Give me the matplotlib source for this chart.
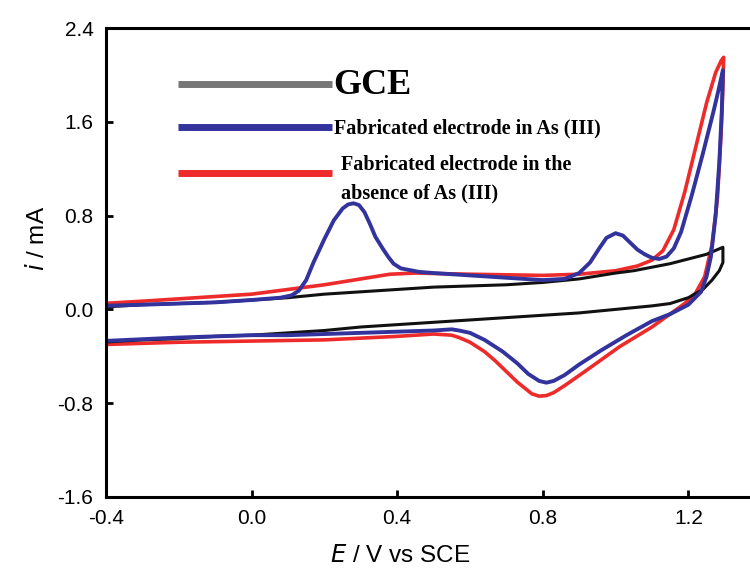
import matplotlib
matplotlib.use("Agg")
import matplotlib.pyplot as plt

# GCE (black)
gce_E = [-0.41, -0.3, -0.2, -0.1, 0.0, 0.1, 0.2, 0.3, 0.4, 0.5, 0.6, 0.7, 0.8, 0.9, 1.0, 1.05, 1.1, 1.15, 1.2, 1.25, 1.295,
         1.295, 1.285, 1.265, 1.24, 1.2, 1.15, 1.1, 1.0, 0.9, 0.8, 0.7, 0.6, 0.5, 0.4, 0.3, 0.2, 0.1, 0.0, -0.1, -0.2, -0.3, -0.41, -0.41]
gce_i = [0.02, 0.04, 0.05, 0.06, 0.08, 0.10, 0.13, 0.15, 0.17, 0.19, 0.20, 0.21, 0.23, 0.26, 0.31, 0.33, 0.36, 0.39, 0.43, 0.47, 0.53,
         0.40, 0.33, 0.25, 0.17, 0.10, 0.05, 0.03, 0.0, -0.03, -0.05, -0.07, -0.09, -0.11, -0.13, -0.15, -0.18, -0.20, -0.22, -0.23, -0.25, -0.26, -0.28, 0.02]

# fabricated electrode in As(III) (blue)
as_E = [-0.41, -0.3, -0.2, -0.1, 0.0, 0.08, 0.11, 0.13, 0.15, 0.17, 0.20, 0.226, 0.25, 0.265, 0.28, 0.295, 0.31, 0.325, 0.34, 0.36, 0.375, 0.39, 0.41, 0.46,
        0.5, 0.6, 0.7, 0.8, 0.86, 0.9, 0.93, 0.955, 0.975, 1.0, 1.02, 1.04, 1.06, 1.08, 1.1, 1.12, 1.14, 1.16, 1.18, 1.21, 1.24, 1.27, 1.285, 1.295,
        1.292, 1.285, 1.275, 1.262, 1.25, 1.235, 1.2, 1.15, 1.1, 1.03, 0.96, 0.9, 0.86, 0.83, 0.81, 0.79, 0.76, 0.73, 0.69, 0.64, 0.6, 0.57, 0.55,
        0.5, 0.4, 0.3, 0.2, 0.1, 0.0, -0.2, -0.41, -0.41]
as_i = [0.03, 0.04, 0.05, 0.06, 0.08, 0.10, 0.12, 0.16, 0.25, 0.40, 0.60, 0.76, 0.86, 0.895, 0.905, 0.89, 0.83, 0.73, 0.62, 0.52, 0.45, 0.39, 0.35, 0.32,
        0.31, 0.29, 0.27, 0.25, 0.26, 0.31, 0.40, 0.52, 0.61, 0.65, 0.63, 0.57, 0.51, 0.47, 0.44, 0.43, 0.45, 0.52, 0.66, 0.98, 1.33, 1.70, 1.90, 2.04,
        1.70, 1.25, 0.80, 0.45, 0.28, 0.15, 0.04, -0.04, -0.10, -0.22, -0.35, -0.47, -0.56, -0.61, -0.625, -0.61, -0.55, -0.46, -0.36, -0.26, -0.20, -0.18, -0.17,
        -0.18, -0.19, -0.20, -0.21, -0.22, -0.22, -0.24, -0.27, 0.03]

# fabricated electrode without As(III) (red)
blank_E = [-0.41, -0.3, -0.2, -0.1, 0.0, 0.1, 0.2, 0.3, 0.38, 0.45, 0.6, 0.8, 0.9, 1.0, 1.06, 1.1, 1.13, 1.16, 1.19, 1.22, 1.25, 1.275, 1.29, 1.297,
           1.295, 1.29, 1.28, 1.265, 1.245, 1.22, 1.19, 1.1, 1.01, 0.92, 0.86, 0.83, 0.81, 0.79, 0.77, 0.75, 0.73, 0.71, 0.67, 0.64, 0.6, 0.57, 0.55,
           0.5, 0.4, 0.2, 0.0, -0.2, -0.41, -0.41]
blank_i = [0.05, 0.07, 0.09, 0.11, 0.13, 0.17, 0.21, 0.26, 0.30, 0.31, 0.30, 0.29, 0.30, 0.33, 0.37, 0.42, 0.50, 0.68, 1.00, 1.38, 1.76, 2.02, 2.12, 2.15,
           1.90, 1.50, 0.95, 0.55, 0.28, 0.14, 0.05, -0.15, -0.32, -0.52, -0.65, -0.71, -0.735, -0.74, -0.72, -0.67, -0.62, -0.56, -0.44, -0.36, -0.28, -0.24, -0.22,
           -0.21, -0.23, -0.26, -0.27, -0.28, -0.30, 0.05]

x_ticks = [-0.4, 0.0, 0.4, 0.8, 1.2]
y_ticks = [-1.6, -0.8, 0.0, 0.8, 1.6, 2.4]

plt.rcParams['font.family'] = ['Liberation Sans', 'DejaVu Sans']

fig = plt.figure(figsize=(7.5, 5.76), dpi=100)
ax = fig.add_axes([106 / 750, 1 - 497 / 576, 1 - 106 / 750 + 0.01, (497 - 28) / 576])

ax.plot(blank_E, blank_i, color='#EE2B2B', lw=2.6, solid_joinstyle='round')
ax.plot(gce_E, gce_i, color='#111111', lw=2.2, solid_joinstyle='round')
ax.plot(as_E, as_i, color='#33339E', lw=2.8, solid_joinstyle='round')

ax.set_xlim(-0.4, 1.39)
ax.set_ylim(-1.6, 2.4)
ax.set_xticks(x_ticks)
ax.set_yticks(y_ticks)
ax.set_xticklabels([f"{v:.1f}" for v in x_ticks])
ax.set_yticklabels([f"{v:.1f}" for v in y_ticks])
ax.tick_params(direction='in', length=5, width=2, labelsize=15, pad=9)
for side in ['left', 'bottom', 'top']:
    ax.spines[side].set_linewidth(2.2)
ax.spines['right'].set_visible(False)

fig.text(400 / 750, 1 - 556 / 576, r"$\it{E}$ / V vs SCE", ha='center', va='center', fontsize=17.5)
fig.text(38 / 750, 1 - 238 / 576, r"$\it{i}$ / mA", ha='center', va='center', fontsize=17.5, rotation=90)

# hand-drawn legend
def tr(px, py):
    return ((px - 106) / (750 - 106 + 0.01 * 750)), (497 - py) / (497 - 28)

legend_lines = [('#777777', 84), ('#33339E', 127), ('#EE2B2B', 173)]
for col, ly in legend_lines:
    x0, y0 = tr(178, ly)
    x1, _ = tr(332, ly)
    ax.plot([x0, x1], [y0, y0], color=col, lw=5, transform=ax.transAxes, solid_capstyle='butt')

legend_texts = [('GCE', 26, 333, 86),
                ('Fabricated electrode in As (III)', 14.5, 334, 128),
                ('Fabricated electrode in the', 14.5, 341, 165),
                ('absence of As (III)', 14.5, 341, 193)]
for txt, fs, tx, ty in legend_texts:
    a, b = tr(tx, ty)
    ax.text(a, b, txt, transform=ax.transAxes, fontsize=fs, fontweight='bold',
            family='Liberation Serif', va='center', ha='left')

fig.savefig('out.png', dpi=100)
